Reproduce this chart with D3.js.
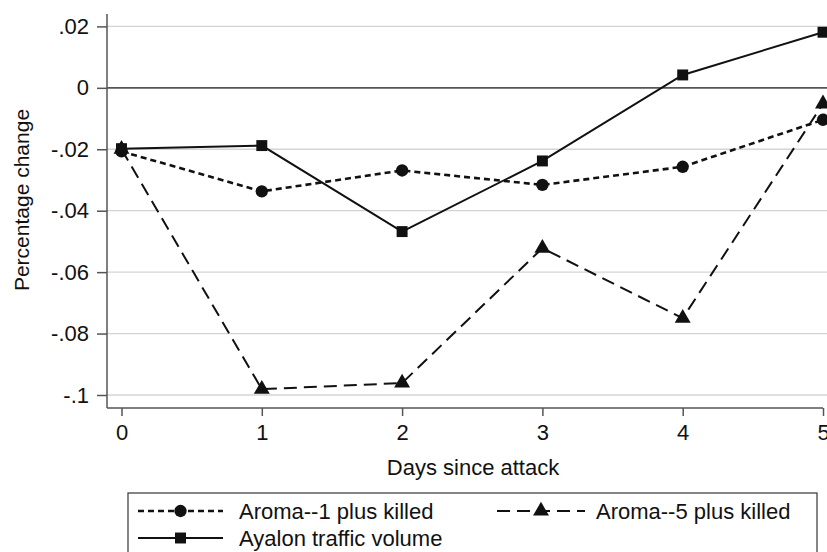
<!DOCTYPE html>
<html>
<head>
<meta charset="utf-8">
<script src="https://cdnjs.cloudflare.com/ajax/libs/d3/7.8.5/d3.min.js"></script>
<style>
  html, body { margin: 0; padding: 0; background: #fff; }
  svg text { font-family: "Liberation Sans", Arial, Helvetica, sans-serif; fill: #111; }
</style>
</head>
<body>
<div id="chart"></div>
<script>
var days = [0, 1, 2, 3, 4, 5];
var yTicks = [0.02, 0, -0.02, -0.04, -0.06, -0.08, -0.1];
var yTickLabels = [".02", "0", "-.02", "-.04", "-.06", "-.08", "-.1"];
var aroma1 = [-0.0207, -0.0337, -0.0269, -0.0316, -0.0257, -0.0104];
var aroma5 = [-0.0200, -0.0981, -0.0961, -0.0522, -0.0750, -0.0052];
var ayalon = [-0.0198, -0.0188, -0.0468, -0.0238, 0.0042, 0.0181];
var seriesNames = ["Aroma--1 plus killed", "Aroma--5 plus killed", "Ayalon traffic volume"];

var width = 827, height = 552;
var svg = d3.select("#chart").append("svg")
  .attr("width", width).attr("height", height);

var x = d3.scaleLinear().domain([0, 5]).range([121.5, 823]);
var y = d3.scaleLinear().domain([-0.1, 0.02]).range([395, 26.4]);

var axisColor = "#555", ink = "#111";
var plotLeft = 107, plotTop = 14, plotBottom = 408;
var fontSize = "22px";

// grid lines (zero line darker)
svg.append("g").selectAll("line").data(yTicks).enter().append("line")
  .attr("x1", plotLeft).attr("x2", width)
  .attr("y1", function (d) { return y(d); }).attr("y2", function (d) { return y(d); })
  .attr("stroke", function (d) { return d === 0 ? "#555" : "#d4d4d4"; })
  .attr("stroke-width", function (d) { return d === 0 ? 1.6 : 1.3; });

// y axis
var yAxis = d3.axisLeft(y).tickValues(yTicks)
  .tickFormat(function (d, i) { return yTickLabels[i]; })
  .tickSize(10).tickPadding(8);
var gy = svg.append("g").attr("transform", "translate(" + plotLeft + ",0)").call(yAxis);
gy.select(".domain").attr("d", "M0," + plotTop + "V" + plotBottom);

// x axis
var xAxis = d3.axisBottom(x).tickValues(days).tickFormat(d3.format("d"))
  .tickSize(8).tickPadding(8);
var gx = svg.append("g").attr("transform", "translate(0," + plotBottom + ")").call(xAxis);
gx.select(".domain").attr("d", "M" + plotLeft + ",0H" + x(5));

[gx, gy].forEach(function (g) {
  g.selectAll(".domain, .tick line").attr("stroke", axisColor).attr("stroke-width", 1.5);
  g.selectAll("text").attr("font-size", fontSize).attr("fill", ink)
    .style("font-family", "'Liberation Sans', Arial, sans-serif");
});

// axis titles
svg.append("text").attr("transform", "translate(29,200) rotate(-90)")
  .attr("text-anchor", "middle").attr("font-size", "21px").text("Percentage change");
svg.append("text").attr("x", 473).attr("y", 475)
  .attr("text-anchor", "middle").attr("font-size", fontSize).text("Days since attack");

var line = d3.line().x(function (d, i) { return x(days[i]); }).y(function (d) { return y(d); });

var styles = [
  { data: aroma1, dash: "6,4", width: 2.6, marker: d3.symbolCircle, size: 120 },
  { data: aroma5, dash: "13,7", width: 2, marker: d3.symbolTriangle, size: 110 },
  { data: ayalon, dash: null, width: 2, marker: d3.symbolSquare, size: 120 }
];

styles.forEach(function (s) {
  svg.append("path").datum(s.data).attr("d", line)
    .attr("fill", "none").attr("stroke", ink).attr("stroke-width", s.width)
    .attr("stroke-dasharray", s.dash);
});
styles.forEach(function (s) {
  svg.append("g").selectAll("path").data(s.data).enter().append("path")
    .attr("d", d3.symbol().type(s.marker).size(s.size))
    .attr("transform", function (d, i) { return "translate(" + x(days[i]) + "," + y(d) + ")"; })
    .attr("fill", ink);
});

// legend
svg.append("rect").attr("x", 128).attr("y", 493).attr("width", 689).attr("height", 80)
  .attr("fill", "none").attr("stroke", "#444").attr("stroke-width", 1.3);

var legendPos = [
  { x1: 138, x2: 223, y: 511, tx: 239 },
  { x1: 497, x2: 585, y: 511, tx: 596 },
  { x1: 138, x2: 223, y: 538, tx: 239 }
];
styles.forEach(function (s, i) {
  var p = legendPos[i];
  svg.append("line").attr("x1", p.x1).attr("x2", p.x2).attr("y1", p.y).attr("y2", p.y)
    .attr("stroke", ink).attr("stroke-width", s.width).attr("stroke-dasharray", s.dash);
  svg.append("path").attr("d", d3.symbol().type(s.marker).size(s.size))
    .attr("transform", "translate(" + (p.x1 + p.x2) / 2 + "," + p.y + ")").attr("fill", ink);
  svg.append("text").attr("x", p.tx).attr("y", p.y + 8).attr("font-size", fontSize).text(seriesNames[i]);
});
</script>
</body>
</html>
